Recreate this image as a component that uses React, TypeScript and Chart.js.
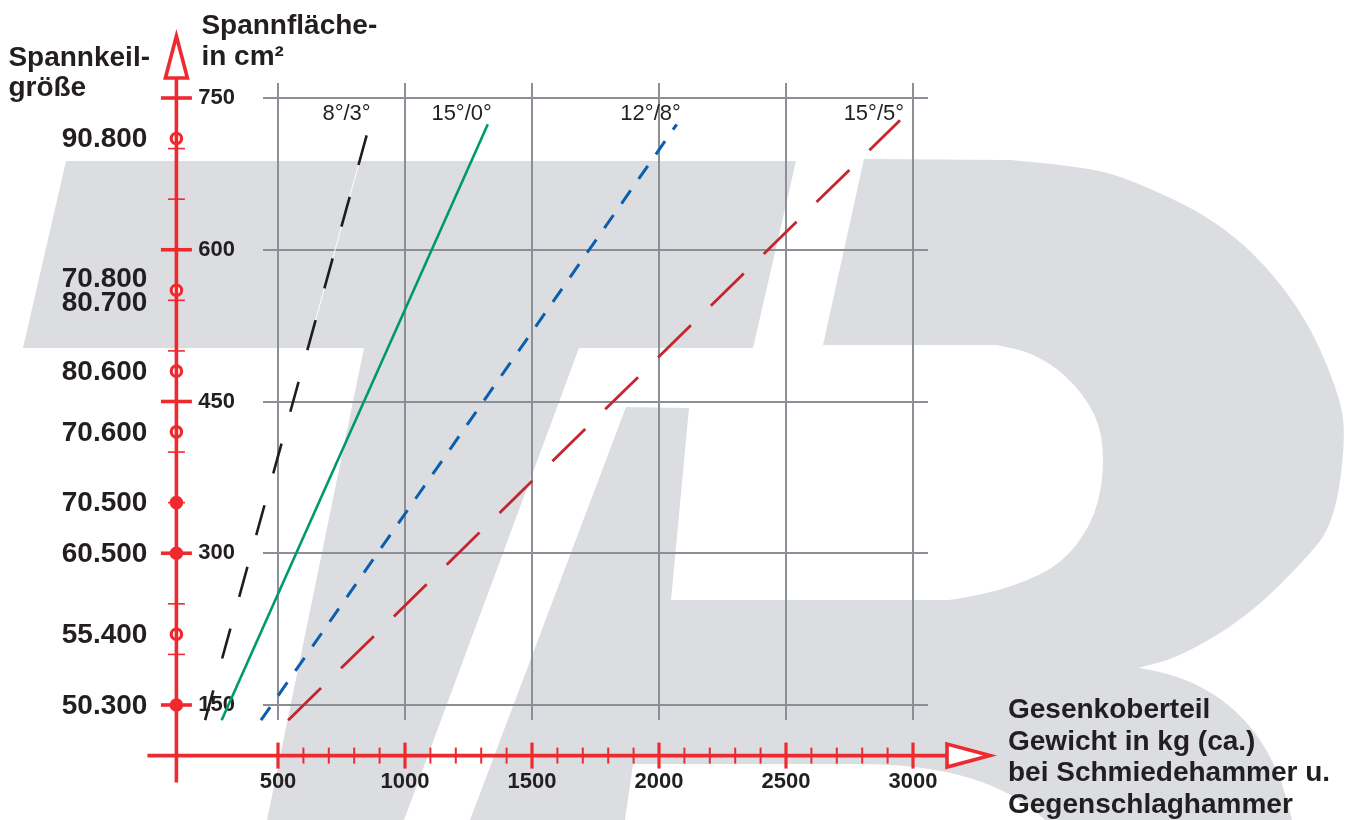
import React, { useEffect, useRef } from 'react';
import { Chart, registerables } from 'chart.js';

Chart.register(...registerables);

// ---------------- data ----------------
const seriesLabels = ['8°/3°', '15°/0°', '12°/8°', '15°/5°'];
// weight in kg (x) and clamping area in cm² (y), start and end of each line
const weight8to3 = [213, 849];
const area8to3 = [135, 713];
const weight15to0 = [278, 1326];
const area15to0 = [135, 724];
const weight12to8 = [433, 2070];
const area12to8 = [135, 724];
const weight15to5 = [540, 2949];
const area15to5 = [135, 728];

const xTickValues = [500, 1000, 1500, 2000, 2500, 3000];
const xMinorTickValues = [600, 700, 800, 900, 1100, 1200, 1300, 1400, 1600, 1700, 1800, 1900, 2100, 2200, 2300, 2400, 2600, 2700, 2800, 2900];
const yTickValues = [150, 300, 450, 600, 750];
const yMinorTickValues = [200, 250, 350, 400, 500, 550, 650, 700];

const wedgeLabels = ['90.800', '70.800\n80.700', '80.600', '70.600', '70.500', '60.500', '55.400', '50.300'];
const wedgeAreas = [710, 560, 480, 420, 350, 300, 220, 150];
const wedgeFilled = [false, false, false, false, true, true, false, true];

const axisOriginWeight = 100;
const axisOriginArea = 100;

const wedgeTitle = ['Spannkeil-', 'größe'];
const yAxisTitle = ['Spannfläche-', 'in cm²'];
const xAxisTitle = ['Gesenkoberteil', 'Gewicht in kg (ca.)', 'bei Schmiedehammer u.', 'Gegenschlaghammer'];

// ---------------- styles ----------------
const FONT = '"Liberation Sans", Arial, Helvetica, sans-serif';
const RED = '#ed2a30';
const TEXT = '#231f20';
const GRID = '#8b9096';
const LOGO = '#dcdde0';
const MARKER_INDEX = 5;

// background watermark (canvas pixels)
const LOGO_T: number[][] = [[66, 161], [796, 161], [753, 348], [579, 348], [404, 820], [267, 820], [364, 348], [23, 348]];
const LOGO_R_OUTER: number[][] = [[1010, 160], [1080, 166], [1131, 179], [1228, 226], [1300, 305], [1339, 392], [1346, 438], [1334, 524], [1303, 562], [1247, 617], [1180, 657], [1138, 668]];
const LOGO_R_INNER: number[][] = [[947, 600], [960, 599], [1013, 587], [1064, 563], [1097, 515], [1105, 458], [1097, 414], [1066, 374], [1030, 352], [996, 345]];

function smoothThrough(ctx: CanvasRenderingContext2D, pts: number[][]) {
  for (let i = 1; i < pts.length - 1; i++) {
    const mx = (pts[i][0] + pts[i + 1][0]) / 2;
    const my = (pts[i][1] + pts[i + 1][1]) / 2;
    ctx.quadraticCurveTo(pts[i][0], pts[i][1], mx, my);
  }
  const last = pts[pts.length - 1];
  ctx.lineTo(last[0], last[1]);
}

function drawLogo(ctx: CanvasRenderingContext2D) {
  ctx.fillStyle = LOGO;
  ctx.beginPath();
  LOGO_T.forEach(([x, y], i) => (i ? ctx.lineTo(x, y) : ctx.moveTo(x, y)));
  ctx.closePath();
  ctx.fill();

  ctx.beginPath();
  ctx.moveTo(626, 407);
  ctx.lineTo(689, 408);
  ctx.lineTo(671, 600);
  ctx.lineTo(947, 600);
  smoothThrough(ctx, LOGO_R_INNER);
  ctx.lineTo(823, 345);
  ctx.lineTo(864, 159);
  ctx.lineTo(1010, 160);
  smoothThrough(ctx, LOGO_R_OUTER);
  ctx.bezierCurveTo(1200, 676, 1270, 712, 1292, 820);
  ctx.lineTo(1045, 820);
  ctx.quadraticCurveTo(985, 762, 850, 764);
  ctx.lineTo(633, 764);
  ctx.lineTo(625, 820);
  ctx.lineTo(470, 820);
  ctx.closePath();
  ctx.fill();
}

function line(ctx: CanvasRenderingContext2D, x1: number, y1: number, x2: number, y2: number, w: number) {
  ctx.lineWidth = w;
  ctx.beginPath();
  ctx.moveTo(x1, y1);
  ctx.lineTo(x2, y2);
  ctx.stroke();
}

const decorPlugin = {
  id: 'decor',
  beforeDraw(chart: any) {
    const { ctx, width, height } = chart;
    ctx.save();
    ctx.fillStyle = '#ffffff';
    ctx.fillRect(0, 0, width, height);
    drawLogo(ctx);
    ctx.restore();
  },
  afterDatasetsDraw(chart: any) {
    const { ctx, chartArea } = chart;
    const xs = chart.scales.x;
    const ys = chart.scales.y;
    const ax = xs.getPixelForValue(axisOriginWeight);
    const ay = ys.getPixelForValue(axisOriginArea);
    const yTop = ys.getPixelForValue(yTickValues[yTickValues.length - 1]) - 20;
    const xEnd = xs.getPixelForValue(xTickValues[xTickValues.length - 1]) + 34;

    ctx.save();
    // wedge-size markers: positions from the scatter dataset's elements (outside the plot area)
    chart.getDatasetMeta(MARKER_INDEX).data.forEach((el: any, i: number) => {
      ctx.beginPath();
      ctx.arc(el.x, el.y, 5.2, 0, Math.PI * 2);
      ctx.fillStyle = wedgeFilled[i] ? RED : '#ffffff';
      ctx.fill();
      ctx.lineWidth = 3.2;
      ctx.strokeStyle = RED;
      ctx.stroke();
    });

    ctx.strokeStyle = RED;
    ctx.lineCap = 'butt';

    // red vertical axis
    line(ctx, ax, yTop, ax, ay + 27, 3.6);
    yMinorTickValues.forEach((v) => {
      const p = ys.getPixelForValue(v);
      line(ctx, ax - 8.5, p, ax + 8.5, p, 1.6);
    });
    yTickValues.forEach((v) => {
      const p = ys.getPixelForValue(v);
      line(ctx, ax - 15.5, p, ax + 15.5, p, 3.6);
    });

    // red horizontal axis
    line(ctx, ax - 29, ay, xEnd, ay, 3.6);
    xMinorTickValues.forEach((v) => {
      const p = xs.getPixelForValue(v);
      line(ctx, p, ay - 8, p, ay + 8, 2);
    });
    xTickValues.forEach((v) => {
      const p = xs.getPixelForValue(v);
      line(ctx, p, ay - 13, p, ay + 13, 3.2);
    });

    // arrow heads
    ctx.lineJoin = 'miter';
    ctx.fillStyle = '#ffffff';
    ctx.lineWidth = 3.6;
    ctx.beginPath();
    ctx.moveTo(ax - 11, yTop);
    ctx.lineTo(ax + 11, yTop);
    ctx.lineTo(ax, yTop - 42);
    ctx.closePath();
    ctx.fill();
    ctx.stroke();
    ctx.beginPath();
    ctx.moveTo(xEnd, ay - 11.5);
    ctx.lineTo(xEnd, ay + 11.5);
    ctx.lineTo(xEnd + 43, ay);
    ctx.closePath();
    ctx.fill();
    ctx.stroke();

    // wedge size labels
    ctx.fillStyle = TEXT;
    ctx.font = `bold 28px ${FONT}`;
    ctx.textAlign = 'right';
    ctx.textBaseline = 'middle';
    wedgeLabels.forEach((lab, i) => {
      const p = ys.getPixelForValue(wedgeAreas[i]);
      const rows = lab.split('\n');
      const lh = 24.5;
      rows.forEach((r, j) => {
        ctx.fillText(r, ax - 29, p + (j - (rows.length - 1) / 2) * lh + 1);
      });
    });

    // series labels at the top end of each line
    ctx.font = `22px ${FONT}`;
    ctx.textAlign = 'right';
    seriesLabels.forEach((lab, i) => {
      const meta = chart.getDatasetMeta(i);
      const last = meta.data[meta.data.length - 1];
      ctx.fillText(lab, last.x + 4, chartArea.top + 16);
    });

    // titles
    ctx.font = `bold 28px ${FONT}`;
    ctx.textAlign = 'left';
    ctx.textBaseline = 'alphabetic';
    ctx.fillText(wedgeTitle[0], ax - 168, 65.5);
    ctx.fillText(wedgeTitle[1], ax - 168, 96);
    ctx.fillText(yAxisTitle[0], ax + 25, 33.5);
    ctx.fillText(yAxisTitle[1], ax + 25, 65);
    const tx = xEnd + 43 + 18;
    xAxisTitle.forEach((t, i) => {
      ctx.fillText(t, tx, ay - 37.5 + i * 31.6);
    });
    ctx.restore();
  },
};

const pts = (xs: number[], ys: number[]) => xs.map((x, i) => ({ x, y: ys[i] }));

const tickSetter = (vals: number[]) => (s: any) => {
  s.ticks = vals.map((v) => ({ value: v }));
};

const gridOpts = (onArea: boolean) => ({
  color: GRID,
  lineWidth: 2,
  drawTicks: true,
  tickLength: 15,
  drawOnChartArea: onArea,
});

export default function App() {
  const ref = useRef<HTMLCanvasElement | null>(null);

  useEffect(() => {
    document.body.style.margin = '0';
    const canvas = ref.current;
    if (!canvas) return;
    const base = { pointRadius: 0, pointHoverRadius: 0, fill: false, tension: 0, clip: false, borderCapStyle: 'butt' };
    const chart = new Chart(canvas, {
      type: 'line',
      data: {
        datasets: [
          { ...base, label: seriesLabels[0], data: pts(weight8to3, area8to3), borderColor: '#1d1d1b', borderWidth: 2.6, borderDash: [31, 33], order: 1 },
          { ...base, label: seriesLabels[1], data: pts(weight15to0, area15to0), borderColor: '#00996b', borderWidth: 2.6, order: 1 },
          { ...base, label: seriesLabels[2], data: pts(weight12to8, area12to8), borderColor: '#0a5eab', borderWidth: 3, borderDash: [16, 14], order: 1 },
          { ...base, label: seriesLabels[3], data: pts(weight15to5, area15to5), borderColor: '#c1272d', borderWidth: 2.8, borderDash: [46, 28], order: 1 },
          { ...base, label: 'underlay', data: pts(weight8to3, area8to3), borderColor: '#ffffff', borderWidth: 1, order: 2 },
          {
            type: 'scatter',
            label: 'Spannkeilgröße',
            data: wedgeAreas.map((a) => ({ x: axisOriginWeight, y: a })),
            pointRadius: 5.2,
            pointHoverRadius: 5.2,
            pointBorderColor: RED,
            showLine: false,
            clip: false,
            order: 0,
          },
        ] as any,
      },
      options: {
        animation: false,
        responsive: false,
        events: [],
        layout: { padding: { left: 198, right: 425, top: 83, bottom: 24 } },
        plugins: { legend: { display: false }, tooltip: { enabled: false } },
        scales: {
          x: {
            type: 'linear',
            position: 'bottom',
            min: xTickValues[0],
            max: xTickValues[xTickValues.length - 1],
            afterBuildTicks: tickSetter(xTickValues),
            afterFit: (s: any) => { s.height = 91; },
            ticks: {
              autoSkip: false,
              maxRotation: 0,
              padding: 49,
              color: TEXT,
              font: { family: FONT, size: 22, weight: 'bold' },
              callback: (v: any) => String(v),
            },
            grid: gridOpts(true),
            border: { display: false },
          },
          xTop: {
            type: 'linear',
            position: 'top',
            min: xTickValues[0],
            max: xTickValues[xTickValues.length - 1],
            afterBuildTicks: tickSetter(xTickValues),
            afterFit: (s: any) => { s.height = 15; },
            ticks: { display: false },
            grid: gridOpts(false),
            border: { display: false },
          },
          y: {
            type: 'linear',
            position: 'left',
            min: yTickValues[0],
            max: yTickValues[yTickValues.length - 1],
            afterBuildTicks: tickSetter(yTickValues),
            afterFit: (s: any) => { s.width = 80; },
            ticks: {
              padding: 28,
              color: TEXT,
              font: { family: FONT, size: 22, weight: 'bold' },
              callback: (v: any) => String(v),
            },
            grid: gridOpts(true),
            border: { display: false },
          },
          yRight: {
            type: 'linear',
            position: 'right',
            min: yTickValues[0],
            max: yTickValues[yTickValues.length - 1],
            afterBuildTicks: tickSetter(yTickValues),
            afterFit: (s: any) => { s.width = 15; },
            ticks: { display: false },
            grid: gridOpts(false),
            border: { display: false },
          },
        },
      } as any,
      plugins: [decorPlugin as any],
    });
    return () => chart.destroy();
  }, []);

  return (
    <div style={{ position: 'absolute', left: 0, top: 0, width: 1353, height: 820 }}>
      <canvas ref={ref} width={1353} height={820} style={{ display: 'block', width: 1353, height: 820 }} />
    </div>
  );
}
